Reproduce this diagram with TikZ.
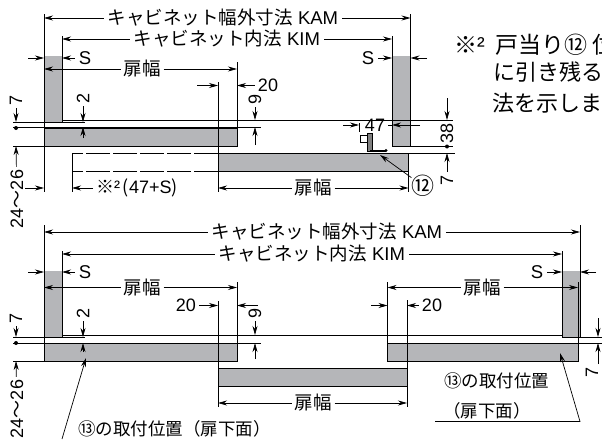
\documentclass[tikz,border=0pt]{standalone}
\usepackage{fontspec}
\setmainfont{Liberation Sans}
\newfontfamily\cjk{Noto Sans CJK JP}
\usetikzlibrary{arrows.meta}
\tikzset{
  dim/.style = {line width=0.7pt, -{Stealth[length=9pt,width=5pt]}},
  ext/.style = {line width=0.7pt},
  body/.style = {line width=1pt, fill=panelgray},
  lab/.style = {font=\fontsize{18.5}{18}\selectfont, inner sep=0pt, outer sep=4pt},
  small/.style = {font=\fontsize{18}{18}\selectfont, inner sep=0pt, outer sep=3pt},
  mount/.style = {font=\fontsize{17.5}{18}\selectfont, inner sep=0pt, anchor=west},
  note/.style = {font=\fontsize{23}{23}\selectfont, inner sep=0pt, anchor=west},
  num/.style = {small, rotate=90},
}
\definecolor{panelgray}{HTML}{B5B6B9}
\begin{document}
\begin{tikzpicture}[x=1pt, y=-1pt]
\useasboundingbox (0,0) rectangle (602,439);

% upper drawing: bodies
\draw[body] (44,56) -- (44,122) -- (62,122) -- (62,56);
\draw[body] (392,56) -- (392,146.5) -- (410.5,146.5) -- (410.5,56);
\draw[body] (44,128) rectangle (237,146);
\draw[body] (218,153) rectangle (408.5,171);
\draw[ext, dash pattern=on 24pt off 3pt] (218,153) -- (72,153);
\draw[ext, dash pattern=on 24pt off 3pt] (218,171) -- (72,171);
\draw[ext] (72,153) -- (72,192);
\draw[line width=1pt] (62,120) -- (392,120);

% upper drawing: extension lines
\draw[ext] (44,14) -- (44,192);
\draw[ext] (62,36) -- (62,122);
\draw[ext] (410.5,14) -- (410.5,146);
\draw[ext] (392,36) -- (392,122);
\draw[ext] (237,62) -- (237,146);
\draw[ext] (218,82) -- (218,192);
\draw[ext] (408.5,153) -- (408.5,192);
\draw[ext] (13,122) -- (85,122);
\draw[ext] (13,127) -- (261,127);
\draw[ext] (13,146) -- (44,146);
\draw[ext] (392,120) -- (453,120);
\draw[ext] (410,146.5) -- (453,146.5);
\draw[ext] (408,153) -- (455,153);

% upper drawing: labels
\node[lab] (kamA) at (223,18) {{\cjk キャビネット幅外寸法} KAM};
\node[lab] (kimA) at (227,39) {{\cjk キャビネット内法} KIM};
\node[lab] (sLA) at (85,58) {S};
\node[lab] (sRA) at (368,58) {S};
\node[lab, outer sep=3pt] (doorA) at (142,69) {\cjk 扉幅};
\node[lab, outer sep=3pt] (doorB) at (313,188) {\cjk 扉幅};
\node[small] (twentyA) at (268,85.5) {20};
\node[num] (nineA) at (255,99) {9};
\node[num] (twoA) at (83,98) {2};
\node[num] (sevenA) at (16,100) {7};
\node[num] (rangeA) at (17,199) {24{\cjk ～}26};
\node[small, anchor=west] (slotA) at (93,188) {{\cjk ※}²\,{\cjk (}47+S{\cjk )}};
\node[small] (fortyA) at (375,125) {47};
\node[num] (thirtyA) at (447,133) {38};
\node[num] (sevenB) at (447,180) {7};
\node[small, outer sep=0pt, font=\fontsize{23}{23}\selectfont] (twelve) at (423,186) {\cjk ⑫};

% upper drawing: dimension lines
\draw[dim] (kamA) -- (44,18);
\draw[dim] (kamA) -- (410.5,18);
\draw[dim] (kimA) -- (62,39);
\draw[dim] (kimA) -- (392,39);
\draw[dim] (28,58) -- (44,58);
\draw[dim] (sLA) -- (62,58);
\draw[dim] (sRA) -- (392,58);
\draw[dim] (427,58) -- (410.5,58);
\draw[dim] (doorA) -- (44,69);
\draw[dim] (doorA) -- (237,69);
\draw[dim] (197,85.5) -- (218,85.5);
\draw[dim] (twentyA) -- (237,85.5);
\draw[dim] (nineA) -- (255,120);
\draw[dim] (255,145) -- (255,127);
\draw[dim] (twoA) -- (83,122);
\draw[dim] (83,138) -- (83,127);
\draw[dim] (sevenA) -- (16,122);
\draw[dim] (rangeA) -- (16,146);
\draw[dim] (25,188) -- (44,188);
\draw[dim] (slotA) -- (72,188);
\draw[dim] (doorB) -- (218,188);
\draw[dim] (doorB) -- (408.5,188);
\draw[dim] (343,125) -- (359,125);
\draw[ext] (359,123) -- (359,132);
\draw[ext] (fortyA) -- (392,125);
\draw[dim] (420,125) -- (392,125);
\draw[dim] (447,98) -- (447,120);
\draw[dim] (sevenB) -- (447,153);
\draw[dim] (twelve) -- (380,155);
\fill (16,128) circle (2pt);
\fill (447,146.5) circle (2pt);

% upper drawing: door stop
\draw[line width=0.9pt, fill=white] (360,135) rectangle (367,142);
\draw[line width=0.8pt, fill=gray] (367.5,133) rectangle (372,151);
\fill (370,149.5) rectangle (386,152);
\fill (386,150.5) circle (1.6pt);

% note
\node[note] (noteA) at (454,45) {{\cjk ※}²\hspace{11pt}{\cjk 戸当り⑫ 位}};
\node[note, font=\fontsize{22}{22}\selectfont] (noteB) at (493,72) {\cjk に引き残る};
\node[note, font=\fontsize{22}{22}\selectfont] (noteC) at (492,103) {\cjk 法を示しま};

% lower drawing: bodies
\draw[body] (44,271) -- (44,337) -- (62,337) -- (62,271);
\draw[body] (562,271) -- (562,337) -- (580,337) -- (580,271);
\draw[body] (44,343) rectangle (237,361);
\draw[body] (387.5,343) rectangle (578,361);
\draw[body] (218,368) rectangle (407,386);
\draw[line width=1pt] (62,335) -- (562,335);

% lower drawing: extension lines
\draw[ext] (44,225) -- (44,361);
\draw[ext] (62,251) -- (62,337);
\draw[ext] (580,225) -- (580,337);
\draw[ext] (562,251) -- (562,337);
\draw[ext] (237,282) -- (237,361);
\draw[ext] (387.5,282) -- (387.5,361);
\draw[ext] (578,282) -- (578,361);
\draw[ext] (218,301) -- (218,407);
\draw[ext] (407,300) -- (407,407);
\draw[ext] (13,337) -- (85,337);
\draw[ext] (13,343) -- (261,343);
\draw[ext] (13,361) -- (44,361);
\draw[ext] (578,337) -- (602,337);
\draw[ext] (578,343) -- (602,343);

% lower drawing: labels
\node[lab] (kamC) at (327,232) {{\cjk キャビネット幅外寸法} KAM};
\node[lab] (kimC) at (312,254) {{\cjk キャビネット内法} KIM};
\node[lab] (sLC) at (85,272) {S};
\node[lab] (sRC) at (537,272) {S};
\node[lab, outer sep=3pt] (doorC) at (142,287.5) {\cjk 扉幅};
\node[lab, outer sep=3pt] (doorD) at (482,287.5) {\cjk 扉幅};
\node[lab, outer sep=3pt] (doorE) at (313,403) {\cjk 扉幅};
\node[small] (twentyC) at (186,305.5) {20};
\node[small] (twentyD) at (432,305.5) {20};
\node[num] (nineC) at (255,313) {9};
\node[num] (twoC) at (83,313) {2};
\node[num] (sevenC) at (16,318) {7};
\node[num] (rangeC) at (17,409) {24{\cjk ～}26};
\node[num] (sevenD) at (592,372) {7};
\node[mount] (mountA) at (78,429) {\cjk ⑬の取付位置（扉下面）};
\node[mount] (mountB) at (444,381) {\cjk ⑬の取付位置};
\node[mount] (mountC) at (443,411) {\cjk （扉下面）};

% lower drawing: dimension lines
\draw[dim] (kamC) -- (44,232);
\draw[dim] (kamC) -- (580,232);
\draw[dim] (kimC) -- (62,254);
\draw[dim] (kimC) -- (562,254);
\draw[dim] (28,272) -- (44,272);
\draw[dim] (sLC) -- (62,272);
\draw[dim] (sRC) -- (562,272);
\draw[dim] (596,272) -- (580,272);
\draw[dim] (doorC) -- (44,287.5);
\draw[dim] (doorC) -- (237,287.5);
\draw[dim] (doorD) -- (387.5,287.5);
\draw[dim] (doorD) -- (578,287.5);
\draw[dim] (doorE) -- (218,403);
\draw[dim] (doorE) -- (407,403);
\draw[dim] (twentyC) -- (218,305.5);
\draw[dim] (258,305.5) -- (237,305.5);
\draw[dim] (371,305.5) -- (387.5,305.5);
\draw[dim] (twentyD) -- (407,305.5);
\draw[dim] (nineC) -- (255,335);
\draw[dim] (255,359) -- (255,343);
\draw[dim] (twoC) -- (83,337);
\draw[dim] (83,352) -- (83,343);
\draw[dim] (sevenC) -- (16,337);
\draw[dim] (rangeC) -- (16,361);
\draw[dim] (598,318) -- (598,337);
\draw[dim] (598,364) -- (598,343);
\draw[dim] (62,439) -- (86,358);
\draw[dim] (435,421.5) -- (580,421.5) -- (560,353);
\fill (16,343) circle (2pt);
\end{tikzpicture}
\end{document}
